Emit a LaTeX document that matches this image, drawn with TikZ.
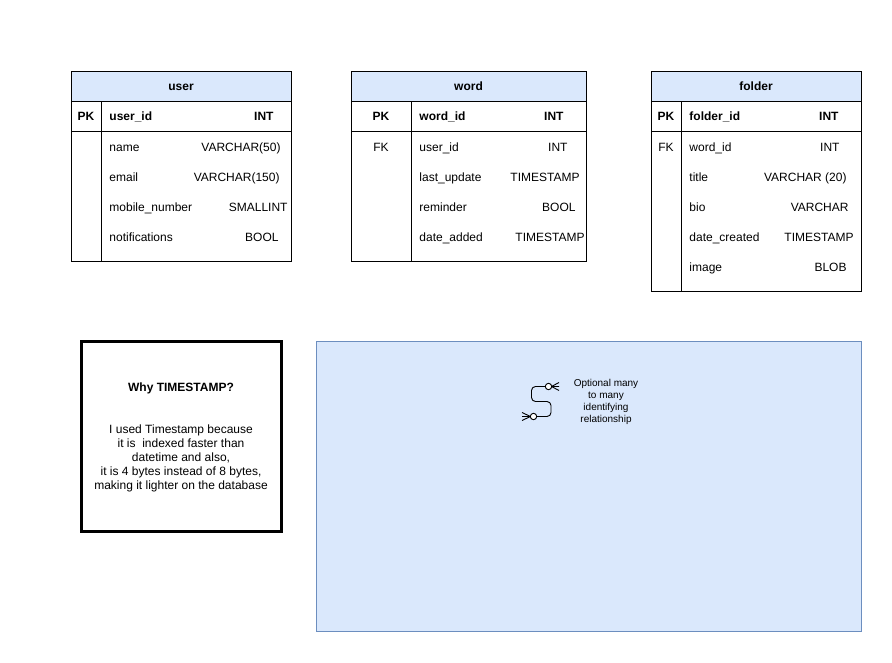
\documentclass[tikz,border=0pt]{standalone}
\usepackage{fontspec}
\setmainfont{Liberation Sans}
\usetikzlibrary{arrows.meta}

\definecolor{headblue}{HTML}{DAE8FC}
\definecolor{areaedge}{HTML}{6C8EBF}

\begin{document}
\begin{tikzpicture}[x=1pt, y=-1pt, line width=0.9pt,
  txt/.style={inner sep=0pt, font=\fontsize{12}{14}\selectfont},
  field/.style={txt, anchor=base west},
  ftype/.style={txt, anchor=base east},
  keycell/.style={txt, anchor=base},
  small/.style={inner sep=0pt, align=center, font=\fontsize{10}{12}\selectfont}]

  \useasboundingbox (0,0) rectangle (892,662);

  % Table user
  \draw[fill=headblue] (71,71) rectangle (291,101);
  \draw (71,101) rectangle (291,261);
  \draw (71,131) -- (291,131);
  \draw (101,101) -- (101,261);
  \node[keycell] (user) at (181,90.5) {\bfseries user};
  \node[keycell] (user-pk) at (86,120.5) {\bfseries PK};
  \node[field] (user-id) at (109,120.5) {\bfseries user\_id};
  \node[ftype] (user-idtype) at (274,120.5) {\bfseries INT};
  \foreach \yb/\fname/\ftype/\xr [count=\i] in {
      151/name/VARCHAR(50)/281,
      181/email/VARCHAR(150)/280,
      211/mobile\_number/SMALLINT/288,
      241/notifications/BOOL/279} {
    \node[field] (user-f\i) at (109,\yb) {\fname};
    \node[ftype] (user-t\i) at (\xr,\yb) {\ftype};
  }

  % Table word
  \draw[fill=headblue] (351,71) rectangle (586,101);
  \draw (351,101) rectangle (586,261);
  \draw (351,131) -- (586,131);
  \draw (411,101) -- (411,261);
  \node[keycell] (word) at (468.5,90.5) {\bfseries word};
  \node[keycell] (word-pk) at (381,120.5) {\bfseries PK};
  \node[field] (word-id) at (419,120.5) {\bfseries word\_id};
  \node[ftype] (word-idtype) at (564,120.5) {\bfseries INT};
  \node[keycell] (word-fk) at (381,151) {FK};
  \foreach \yb/\fname/\ftype/\xr [count=\i] in {
      151/user\_id/INT/568,
      181/last\_update/TIMESTAMP/580,
      211/reminder/BOOL/576,
      241/date\_added/TIMESTAMP/585} {
    \node[field] (word-f\i) at (419,\yb) {\fname};
    \node[ftype] (word-t\i) at (\xr,\yb) {\ftype};
  }

  % Table folder
  \draw[fill=headblue] (651,71) rectangle (861,101);
  \draw (651,101) rectangle (861,291);
  \draw (651,131) -- (861,131);
  \draw (681,101) -- (681,291);
  \node[keycell] (folder) at (756,90.5) {\bfseries folder};
  \node[keycell] (folder-pk) at (666,120.5) {\bfseries PK};
  \node[field] (folder-id) at (689,120.5) {\bfseries folder\_id};
  \node[ftype] (folder-idtype) at (839,120.5) {\bfseries INT};
  \node[keycell] (folder-fk) at (666,151) {FK};
  \foreach \yb/\fname/\ftype/\xr [count=\i] in {
      151/word\_id/INT/840,
      181/title/VARCHAR (20)/847,
      211/bio/VARCHAR/849,
      241/date\_created/TIMESTAMP/854,
      271/image/BLOB/847} {
    \node[field] (folder-f\i) at (689,\yb) {\fname};
    \node[ftype] (folder-t\i) at (\xr,\yb) {\ftype};
  }

  % Note on timestamps
  \draw[line width=3pt] (81,341) rectangle (281,531);
  \node[keycell] (notetitle) at (181,391.5) {\bfseries Why TIMESTAMP?};
  \node[txt, align=center] (notebody) at (181,458) {I used Timestamp because\\
    it is~ indexed faster than\\ datetime and also,\\
    it is 4 bytes instead of 8 bytes,\\ making it lighter on the database};

  % Legend area
  \draw[areaedge, fill=headblue] (316,341) rectangle (861,631);

  % Legend symbol: optional many to many
  \coordinate (topend) at (548.5,386.5);
  \coordinate (botend) at (533.5,416.5);
  \draw[rounded corners=4pt] (topend) -| (531.5,401.5) -| (551,416.5) -- (botend);
  \draw (551.5,386.5) -- (559,382.5) (551.5,386.5) -- (559,386.5) (551.5,386.5) -- (559,390.5);
  \draw (530.5,416.5) -- (522,412.5) (530.5,416.5) -- (522,416.5) (530.5,416.5) -- (522,420.5);
  \draw[fill=white] (topend) circle (3.2pt);
  \draw[fill=white] (botend) circle (3.2pt);
  \node[small] (legend) at (606,402) {Optional many\\ to many\\ identifying\\ relationship};

\end{tikzpicture}
\end{document}
